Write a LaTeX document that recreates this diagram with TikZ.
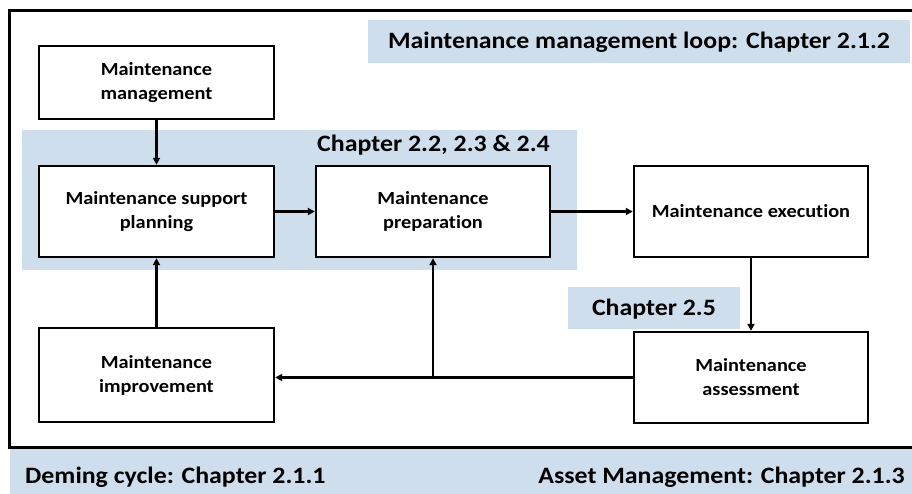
\documentclass[tikz,border=0pt]{standalone}
\usepackage{fontspec}
\setmainfont{Carlito}[FakeStretch=1.1,RawFeature={-liga;-clig;-calt;-dlig}]
\usetikzlibrary{arrows.meta}
\definecolor{bandblue}{RGB}{206,222,237}
% zero kern that keeps "t" and "i" as separate glyphs
\newcommand\splitti{t\kern0pt i}
\begin{document}
\begin{tikzpicture}[x=1pt,y=-1pt,
  stagebox/.style={draw,line width=2.4pt,fill=white,align=center,inner sep=0pt,
    font=\fontsize{18.5}{24}\selectfont\bfseries},
  band/.style={fill=bandblue,inner sep=0pt},
  bandtext/.style={inner sep=0pt,font=\fontsize{23.5}{28}\selectfont\bfseries},
  flow/.style={line width=2.2pt,-{Triangle[length=7pt,width=7pt]}}]
\useasboundingbox (0,0) rectangle (912,494);

% bands of background colour
\fill[bandblue] (10,449) rectangle (914,496);
\node[band,minimum width=542pt,minimum height=43pt] (loopband) at (639,41.5) {};
\node[band,minimum width=555pt,minimum height=140pt] (chapband) at (299.5,200) {};
\node[band,minimum width=172pt,minimum height=42pt] (ch25band) at (654,308) {};

% outer frame
\draw[line width=3pt] (9,11) rectangle (916,447);

% band labels
\node[bandtext] (looptext) at (639,42) {Maintenance management loop: Chapter 2.1.2};
\node[bandtext] (chaptext) at (433.5,145) {Chapter 2.2, 2.3 \& 2.4};
\node[bandtext] (ch25text) at (654,309) {Chapter 2.5};
\node[bandtext,anchor=west] (deming) at (25,477) {Deming cycle: Chapter 2.1.1};
\node[bandtext,anchor=east] (asset) at (905,477) {Asset Management: Chapter 2.1.3};

% stages
\node[stagebox,minimum width=235pt,minimum height=73pt] (mgmt) at (156.5,82.5) {Maintenance\\management};
\node[stagebox,minimum width=235pt,minimum height=91pt] (plan) at (156.5,211.5) {Maintenance support\\planning};
\node[stagebox,minimum width=234pt,minimum height=91pt] (prep) at (433,211.5) {Maintenance\\prepara\splitti on};
\node[stagebox,minimum width=234pt,minimum height=91pt] (exec) at (751,211.5) {Maintenance execu\splitti on};
\node[stagebox,minimum width=234pt,minimum height=91pt] (assess) at (751,377.5) {Maintenance\\assessment};
\node[stagebox,minimum width=235pt,minimum height=94pt] (improve) at (156.5,375) {Maintenance\\improvement};

% connectors
\coordinate (junction) at (prep.south |- assess.west);
\draw[flow] (mgmt) -- (plan);
\draw[flow] (plan) -- (prep);
\draw[flow] (prep) -- (exec);
\draw[flow] (exec) -- (assess);
\draw[flow] (assess.west) -- (improve.east |- assess.west);
\draw[flow] (junction) -- (prep.south);
\draw[flow] (improve) -- (plan);
\end{tikzpicture}
\end{document}
